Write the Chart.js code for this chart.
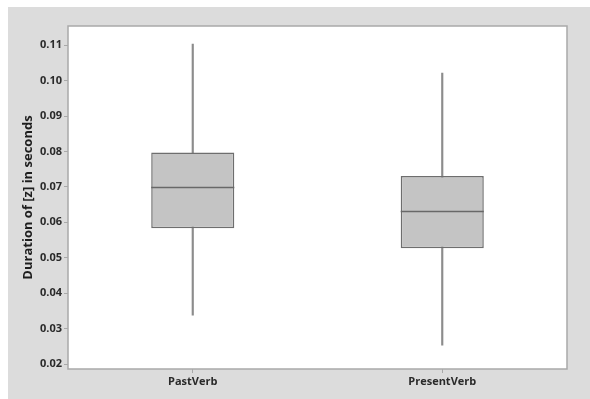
<!DOCTYPE html>
<html>
<head>
<meta charset="utf-8">
<script src="https://cdn.jsdelivr.net/npm/chart.js@4/dist/chart.umd.min.js"></script>
<style>
  html, body { margin: 0; padding: 0; background: #ffffff; }
  canvas { display: block; }
</style>
</head>
<body>
<canvas id="c" width="590" height="399"></canvas>
<script>
// Duration of [z] by verb form: five-number summaries per group
const categories  = ['PastVerb', 'PresentVerb'];
const whiskerLow  = [0.0338, 0.0253];
const q1          = [0.0583, 0.0527];
const median      = [0.0700, 0.0631];
const q3          = [0.0797, 0.0731];
const whiskerHigh = [0.1103, 0.1021];
const yTicks      = [0.02, 0.03, 0.04, 0.05, 0.06, 0.07, 0.08, 0.09, 0.10, 0.11];
const yTitle      = 'Duration of [z] in seconds';

const FONT = '"Open Sans", "Noto Sans", "DejaVu Sans", sans-serif';

// Gray panel behind the plot, white plot area and its frame
const panelPlugin = {
  id: 'panel',
  beforeDraw(chart) {
    const { ctx, chartArea: a } = chart;
    ctx.save();
    ctx.fillStyle = '#ffffff';
    ctx.fillRect(0, 0, chart.width, chart.height);
    ctx.fillStyle = '#dcdcdc';
    ctx.fillRect(8, 7, chart.width - 8, chart.height - 7);
    ctx.fillStyle = '#ffffff';
    ctx.fillRect(a.left, a.top, a.right - a.left, a.bottom - a.top);
    ctx.restore();
  },
  afterDraw(chart) {
    const { ctx, chartArea: a } = chart;
    ctx.save();
    ctx.strokeStyle = '#a9a9a9';
    ctx.lineWidth = 1.5;
    ctx.strokeRect(a.left, a.top, a.right - a.left, a.bottom - a.top);
    ctx.restore();
  }
};

// Median line across each box
const medianPlugin = {
  id: 'medianLines',
  afterDatasetsDraw(chart) {
    const { ctx } = chart;
    const boxes = chart.getDatasetMeta(1).data;
    const y = chart.scales.y;
    ctx.save();
    ctx.strokeStyle = '#686868';
    ctx.lineWidth = 1.5;
    boxes.forEach((bar, i) => {
      const py = Math.round(y.getPixelForValue(median[i])) + 0.5;
      ctx.beginPath();
      ctx.moveTo(bar.x - bar.width / 2, py);
      ctx.lineTo(bar.x + bar.width / 2, py);
      ctx.stroke();
    });
    ctx.restore();
  }
};

new Chart(document.getElementById('c'), {
  type: 'bar',
  data: {
    labels: categories,
    datasets: [
      {
        label: 'whisker',
        data: categories.map((_, i) => [whiskerLow[i], whiskerHigh[i]]),
        backgroundColor: '#8c8c8c',
        borderWidth: 0,
        barThickness: 1.5,
        order: 2
      },
      {
        label: 'box',
        data: categories.map((_, i) => [q1[i], q3[i]]),
        backgroundColor: '#c4c4c4',
        borderColor: '#6e6e6e',
        borderWidth: 1.5,
        borderSkipped: false,
        barPercentage: 0.333,
        categoryPercentage: 1,
        order: 1
      }
    ]
  },
  options: {
    responsive: false,
    animation: false,
    devicePixelRatio: 1,
    layout: { padding: { top: 26, right: 23, left: 0, bottom: 0 } },
    plugins: {
      legend: { display: false },
      tooltip: { enabled: false }
    },
    datasets: { bar: { grouped: false } },
    scales: {
      x: {
        type: 'category',
        offset: true,
        grid: {
          display: true,
          drawOnChartArea: false,
          drawTicks: true,
          tickLength: 4,
          color: '#a9a9a9',
          offset: false
        },
        border: { display: false },
        ticks: {
          padding: 2,
          color: '#2a2a2a',
          font: { family: FONT, size: 11, weight: 'bold' }
        },
        afterFit(scale) { scale.height = 30; }
      },
      y: {
        type: 'linear',
        min: 0.0186,
        max: 0.1154,
        afterBuildTicks(scale) {
          scale.ticks = yTicks.map(v => ({ value: v }));
        },
        grid: {
          display: true,
          drawOnChartArea: false,
          drawTicks: true,
          tickLength: 4,
          color: '#a9a9a9'
        },
        border: { display: false },
        ticks: {
          padding: 2,
          color: '#2a2a2a',
          font: { family: FONT, size: 11, weight: 'bold' },
          callback: v => Number(v).toFixed(2)
        },
        title: {
          display: true,
          text: yTitle,
          color: '#1e1e1e',
          font: { family: FONT, size: 13, weight: 'bold' },
          padding: { top: 20, bottom: 0 }
        },
        afterFit(scale) { scale.width = 68; }
      }
    }
  },
  plugins: [panelPlugin, medianPlugin]
});
</script>
</body>
</html>
